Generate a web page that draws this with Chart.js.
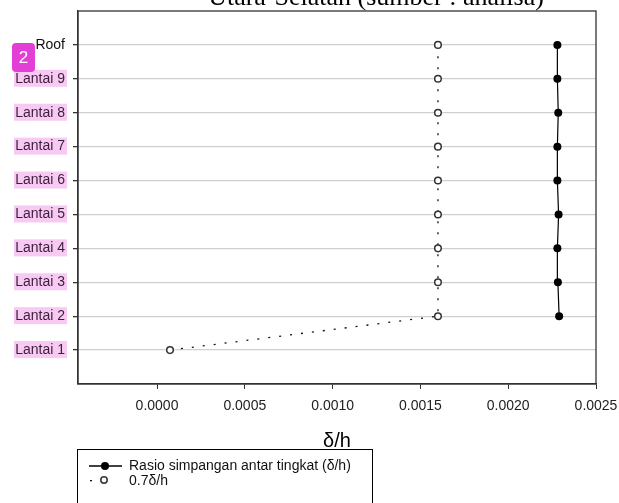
<!DOCTYPE html>
<html>
<head>
<meta charset="utf-8">
<script src="https://cdn.jsdelivr.net/npm/chart.js@4"></script>
<style>
  html, body { margin: 0; padding: 0; background: #fff; overflow: hidden; }
  #wrap { position: relative; width: 619px; height: 503px; }
</style>
</head>
<body>
<div id="wrap"><canvas id="chart" width="619" height="503"></canvas></div>
<script>
// floors bottom -> top
const floors = ['Lantai 1', 'Lantai 2', 'Lantai 3', 'Lantai 4', 'Lantai 5', 'Lantai 6', 'Lantai 7', 'Lantai 8', 'Lantai 9', 'Roof'];
const floorLevels = [1, 2, 3, 4, 5, 6, 7, 8, 9, 10];
const driftRatio = [null, 0.00229, 0.002283, 0.00228, 0.002287, 0.00228, 0.00228, 0.002285, 0.00228, 0.00228];
const driftRatio07 = [0.000074, 0.0016, 0.0016, 0.0016, 0.0016, 0.0016, 0.0016, 0.0016, 0.0016, 0.0016];
const xTicks = [0, 0.0005, 0.001, 0.0015, 0.002, 0.0025];
const seriesNames = ['Rasio simpangan antar tingkat (\u03b4/h)', '0.7\u03b4/h'];
const chartTitle = 'Utara-Selatan (sumber : analisa)';
const xTitle = '\u03b4/h';

const SANS = '"Liberation Sans", Arial, sans-serif';
const toPoints = (vals) => vals.map((v, i) => ({ x: v, y: floorLevels[i] }));

// pink label highlight + badge, title, axis title, box and legend
const decor = {
  id: 'decor',
  beforeDraw(chart) {
    const { ctx, scales: { y } } = chart;
    ctx.save();
    ctx.fillStyle = '#f8c9f3';
    floorLevels.forEach((lv, i) => {
      if (floors[i] === 'Roof') return;
      const py = y.getPixelForValue(lv);
      ctx.fillRect(14, py - 9, 53, 17);
    });
    ctx.restore();
  },
  afterDraw(chart) {
    const { ctx, chartArea: a } = chart;
    ctx.save();
    // box around plot
    ctx.strokeStyle = '#333';
    ctx.lineWidth = 1.3;
    ctx.strokeRect(a.left, a.top, a.right - a.left, a.bottom - a.top);

    // title (cut off at top)
    ctx.fillStyle = '#000';
    ctx.font = '26px "Liberation Serif", "Times New Roman", serif';
    ctx.textAlign = 'center';
    ctx.textBaseline = 'alphabetic';
    ctx.fillText(chartTitle, 376, 5);

    // x axis title
    ctx.font = '20px ' + SANS;
    ctx.fillText(xTitle, (a.left + a.right) / 2, 447);

    // legend
    ctx.strokeStyle = '#000';
    ctx.lineWidth = 1;
    ctx.strokeRect(77.5, 449.5, 295, 70);
    ctx.textAlign = 'left';
    ctx.textBaseline = 'middle';
    ctx.font = '14px ' + SANS;
    ctx.fillStyle = '#111';
    // row 1
    ctx.beginPath();
    ctx.moveTo(89, 466); ctx.lineTo(122, 466);
    ctx.lineWidth = 1.4; ctx.strokeStyle = '#000'; ctx.stroke();
    ctx.beginPath(); ctx.arc(105, 466, 4, 0, Math.PI * 2); ctx.fillStyle = '#000'; ctx.fill();
    ctx.fillStyle = '#111';
    ctx.fillText(seriesNames[0], 129, 466);
    // row 2
    ctx.fillRect(90, 480, 2, 1.3);
    ctx.beginPath(); ctx.arc(104, 480, 3.2, 0, Math.PI * 2);
    ctx.fillStyle = '#fff'; ctx.fill();
    ctx.lineWidth = 1.5; ctx.strokeStyle = '#333'; ctx.stroke();
    ctx.fillStyle = '#111';
    ctx.fillText(seriesNames[1], 129, 481);

    // badge
    ctx.fillStyle = '#e23fd6';
    ctx.beginPath();
    ctx.roundRect(12, 43, 23, 29, 4);
    ctx.fill();
    ctx.fillStyle = '#fff';
    ctx.font = '17px ' + SANS;
    ctx.textAlign = 'center';
    ctx.fillText('2', 23.5, 58.5);
    ctx.restore();
  }
};

new Chart(document.getElementById('chart'), {
  type: 'line',
  data: {
    datasets: [
      {
        label: seriesNames[0],
        data: toPoints(driftRatio),
        borderColor: '#000',
        borderWidth: 1.2,
        pointRadius: 4,
        pointBackgroundColor: '#000',
        pointBorderColor: '#000',
        pointBorderWidth: 0,
        fill: false,
        tension: 0
      },
      {
        label: seriesNames[1],
        data: toPoints(driftRatio07),
        borderColor: '#111',
        borderWidth: 1.3,
        borderDash: [2, 9],
        pointRadius: 3.3,
        pointBackgroundColor: '#fff',
        pointBorderColor: '#333',
        pointBorderWidth: 1.5,
        fill: false,
        tension: 0
      }
    ]
  },
  options: {
    responsive: false,
    animation: false,
    layout: { padding: { left: 0, right: 23, top: 11, bottom: 0 } },
    plugins: { legend: { display: false }, tooltip: { enabled: false } },
    scales: {
      x: {
        type: 'linear',
        min: -0.00045,
        max: 0.0025,
        afterBuildTicks: (s) => { s.ticks = xTicks.map(v => ({ value: v })); },
        afterFit: (s) => { s.height = 119; s.paddingLeft = 0; s.paddingRight = 0; },
        border: { display: true, color: '#333', width: 1.3 },
        grid: { drawOnChartArea: false, drawTicks: true, tickLength: 5, tickColor: '#333' },
        ticks: {
          padding: 9,
          color: '#222',
          font: { family: SANS, size: 14 },
          maxRotation: 0,
          callback: (v) => Number(v).toFixed(4)
        }
      },
      y: {
        type: 'linear',
        min: 0,
        max: 11,
        afterBuildTicks: (s) => { s.ticks = floorLevels.map(v => ({ value: v })); },
        afterFit: (s) => { s.width = 78; s.paddingTop = 0; s.paddingBottom = 0; },
        border: { display: true, color: '#333', width: 1.3 },
        grid: { color: '#cfcfcf', lineWidth: 1.3, tickLength: 5, tickColor: '#333' },
        ticks: {
          padding: 8,
          color: (c) => c.tick && c.tick.value === 10 ? '#111' : '#3a1f3a',
          font: { family: SANS, size: 14 },
          callback: (v) => floors[floorLevels.indexOf(v)]
        }
      }
    }
  },
  plugins: [decor]
});
</script>
</body>
</html>
